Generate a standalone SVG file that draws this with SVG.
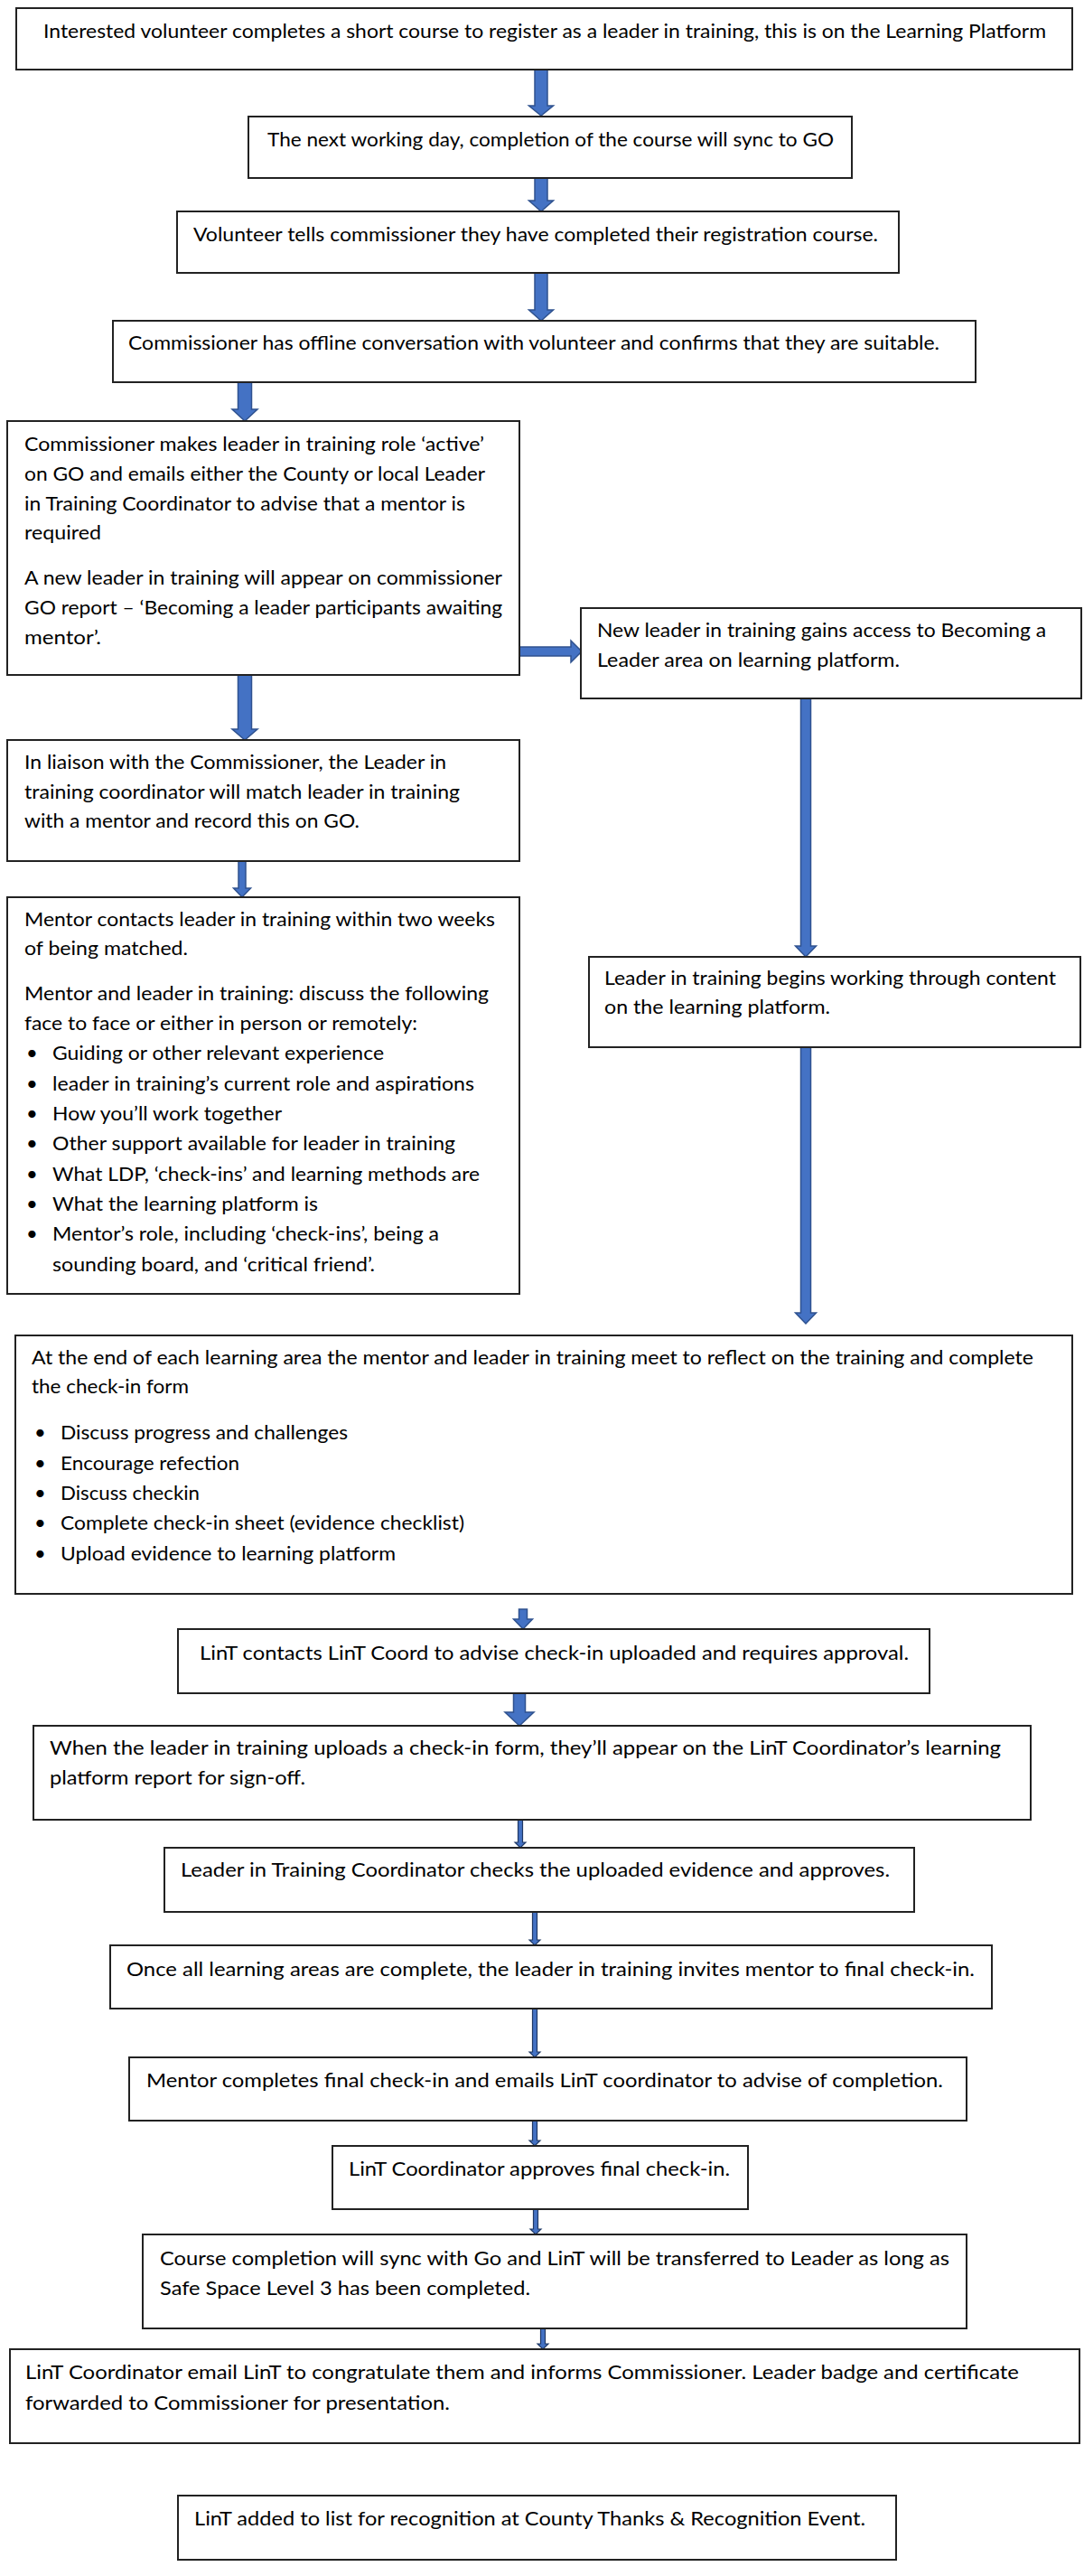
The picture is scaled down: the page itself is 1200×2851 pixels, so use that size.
<svg xmlns="http://www.w3.org/2000/svg" width="1200" height="2851" viewBox="0 0 1200 2851">
<style>
.box{fill:#fff;stroke:#222;stroke-width:2}
.arr{fill:#4472C4;stroke:#2F528F;stroke-width:1.5}
.thin{fill:#4472C4;stroke:#1F3864;stroke-width:1.2}
text{font-family:Lato,"Liberation Sans",sans-serif;font-size:22px;fill:#000}
</style>
<rect width="1200" height="2851" fill="#fff"/>
<g id="connectors">
<polygon class="arr" points="592,75 606,75 606,117 612.5,117 599,128 585.5,117 592,117"/>
<polygon class="arr" points="592,197 606,197 606,222 612.5,222 599,234 585.5,222 592,222"/>
<polygon class="arr" points="592,302 606,302 606,343 612.5,343 599,355 585.5,343 592,343"/>
<polygon class="arr" points="263.5,422 278.5,422 278.5,453 285,453 271,466 257,453 263.5,453"/>
<polygon class="arr" points="263.5,747 278.5,747 278.5,807 285,807 271,819 257,807 263.5,807"/>
<polygon class="arr" points="264,953 272,953 272,983 277.5,983 268,993 258.5,983 264,983"/>
<polygon class="arr" points="575,716 632,716 632,709 644,721 632,733 632,726 575,726"/>
<polygon class="arr" points="886.5,773 897.5,773 897.5,1047 903.5,1047 892,1059 880.5,1047 886.5,1047"/>
<polygon class="arr" points="886.5,1159 897.5,1159 897.5,1453 903.5,1453 892,1465 880.5,1453 886.5,1453"/>
<polygon class="arr" points="574.5,1781 583.5,1781 583.5,1792 589.5,1792 579,1803 568.5,1792 574.5,1792"/>
<polygon class="arr" points="568.5,1874 581.5,1874 581.5,1895 591,1895 575,1910 559,1895 568.5,1895"/>
<polygon class="thin" points="573.5,2014 578.5,2014 578.5,2039 582,2039 576,2045 570,2039 573.5,2039"/>
<polygon class="thin" points="589.5,2116 594.5,2116 594.5,2147 598,2147 592,2153 586,2147 589.5,2147"/>
<polygon class="thin" points="589.5,2223 594.5,2223 594.5,2271 598,2271 592,2277 586,2271 589.5,2271"/>
<polygon class="thin" points="589.5,2347 594.5,2347 594.5,2369 598,2369 592,2375 586,2369 589.5,2369"/>
<polygon class="thin" points="590.5,2445 595.5,2445 595.5,2467 599,2467 593,2473 587,2467 590.5,2467"/>
<polygon class="thin" points="598.5,2577 603.5,2577 603.5,2594 607,2594 601,2600 595,2594 598.5,2594"/>
</g>
<g id="n1"><rect class="box" x="18" y="9" width="1169" height="68"/><text x="48" y="42" textLength="1110" lengthAdjust="spacingAndGlyphs">Interested volunteer completes a short course to register as a leader in training, this is on the Learning Platform</text></g>
<g id="n2"><rect class="box" x="275" y="129" width="668" height="68"/><text x="296" y="162" textLength="627" lengthAdjust="spacingAndGlyphs">The next working day, completion of the course will sync to GO</text></g>
<g id="n3"><rect class="box" x="196" y="234" width="799" height="68"/><text x="214" y="267" textLength="758" lengthAdjust="spacingAndGlyphs">Volunteer tells commissioner they have completed their registration course.</text></g>
<g id="n4"><rect class="box" x="125" y="355" width="955" height="68"/><text x="142" y="387" textLength="898" lengthAdjust="spacingAndGlyphs">Commissioner has offline conversation with volunteer and confirms that they are suitable.</text></g>
<g id="n5"><rect class="box" x="8" y="466" width="567" height="281"/>
<text x="27" y="499" textLength="509" lengthAdjust="spacingAndGlyphs">Commissioner makes leader in training role ‘active’</text>
<text x="27" y="532" textLength="510" lengthAdjust="spacingAndGlyphs">on GO and emails either the County or local Leader</text>
<text x="27" y="565" textLength="488" lengthAdjust="spacingAndGlyphs">in Training Coordinator to advise that a mentor is</text>
<text x="27" y="597" textLength="85" lengthAdjust="spacingAndGlyphs">required</text>
<text x="27" y="647" textLength="529" lengthAdjust="spacingAndGlyphs">A new leader in training will appear on commissioner</text>
<text x="27" y="680" textLength="529" lengthAdjust="spacingAndGlyphs">GO report – ‘Becoming a leader participants awaiting</text>
<text x="27" y="713" textLength="85" lengthAdjust="spacingAndGlyphs">mentor’.</text></g>
<g id="n6"><rect class="box" x="643" y="673" width="554" height="100"/>
<text x="661" y="705" textLength="497" lengthAdjust="spacingAndGlyphs">New leader in training gains access to Becoming a</text>
<text x="661" y="738" textLength="335" lengthAdjust="spacingAndGlyphs">Leader area on learning platform.</text></g>
<g id="n7"><rect class="box" x="8" y="819" width="567" height="134"/>
<text x="27" y="851" textLength="467" lengthAdjust="spacingAndGlyphs">In liaison with the Commissioner, the Leader in</text>
<text x="27" y="884" textLength="482" lengthAdjust="spacingAndGlyphs">training coordinator will match leader in training</text>
<text x="27" y="916" textLength="371" lengthAdjust="spacingAndGlyphs">with a mentor and record this on GO.</text></g>
<g id="n8"><rect class="box" x="8" y="993" width="567" height="439"/>
<text x="27" y="1025" textLength="521" lengthAdjust="spacingAndGlyphs">Mentor contacts leader in training within two weeks</text>
<text x="27" y="1057" textLength="181" lengthAdjust="spacingAndGlyphs">of being matched.</text>
<text x="27" y="1107" textLength="514" lengthAdjust="spacingAndGlyphs">Mentor and leader in training: discuss the following</text>
<text x="27" y="1140" textLength="435" lengthAdjust="spacingAndGlyphs">face to face or either in person or remotely:</text>
<text x="29" y="1173">•</text><text x="58" y="1173" textLength="367" lengthAdjust="spacingAndGlyphs">Guiding or other relevant experience</text>
<text x="29" y="1207">•</text><text x="58" y="1207" textLength="467" lengthAdjust="spacingAndGlyphs">leader in training’s current role and aspirations</text>
<text x="29" y="1240">•</text><text x="58" y="1240" textLength="254" lengthAdjust="spacingAndGlyphs">How you’ll work together</text>
<text x="29" y="1273">•</text><text x="58" y="1273" textLength="446" lengthAdjust="spacingAndGlyphs">Other support available for leader in training</text>
<text x="29" y="1307">•</text><text x="58" y="1307" textLength="473" lengthAdjust="spacingAndGlyphs">What LDP, ‘check-ins’ and learning methods are</text>
<text x="29" y="1340">•</text><text x="58" y="1340" textLength="294" lengthAdjust="spacingAndGlyphs">What the learning platform is</text>
<text x="29" y="1373">•</text><text x="58" y="1373" textLength="428" lengthAdjust="spacingAndGlyphs">Mentor’s role, including ‘check-ins’, being a</text>
<text x="58" y="1407" textLength="357" lengthAdjust="spacingAndGlyphs">sounding board, and ‘critical friend’.</text></g>
<g id="n9"><rect class="box" x="652" y="1059" width="544" height="100"/>
<text x="669" y="1090" textLength="500" lengthAdjust="spacingAndGlyphs">Leader in training begins working through content</text>
<text x="669" y="1122" textLength="250" lengthAdjust="spacingAndGlyphs">on the learning platform.</text></g>
<g id="n10"><rect class="box" x="17" y="1478" width="1170" height="286"/>
<text x="35" y="1510" textLength="1109" lengthAdjust="spacingAndGlyphs">At the end of each learning area the mentor and leader in training meet to reflect on the training and complete</text>
<text x="35" y="1542" textLength="174" lengthAdjust="spacingAndGlyphs">the check-in form</text>
<text x="38" y="1593">•</text><text x="67" y="1593" textLength="318" lengthAdjust="spacingAndGlyphs">Discuss progress and challenges</text>
<text x="38" y="1627">•</text><text x="67" y="1627" textLength="198" lengthAdjust="spacingAndGlyphs">Encourage refection</text>
<text x="38" y="1660">•</text><text x="67" y="1660" textLength="154" lengthAdjust="spacingAndGlyphs">Discuss checkin</text>
<text x="38" y="1693">•</text><text x="67" y="1693" textLength="447" lengthAdjust="spacingAndGlyphs">Complete check-in sheet (evidence checklist)</text>
<text x="38" y="1727">•</text><text x="67" y="1727" textLength="371" lengthAdjust="spacingAndGlyphs">Upload evidence to learning platform</text></g>
<g id="n11"><rect class="box" x="197" y="1803" width="832" height="71"/><text x="221" y="1837" textLength="785" lengthAdjust="spacingAndGlyphs">LinT contacts LinT Coord to advise check-in uploaded and requires approval.</text></g>
<g id="n12"><rect class="box" x="37" y="1910" width="1104" height="104"/>
<text x="55" y="1942" textLength="1053" lengthAdjust="spacingAndGlyphs">When the leader in training uploads a check-in form, they’ll appear on the LinT Coordinator’s learning</text>
<text x="55" y="1975" textLength="283" lengthAdjust="spacingAndGlyphs">platform report for sign-off.</text></g>
<g id="n13"><rect class="box" x="182" y="2045" width="830" height="71"/><text x="200" y="2077" textLength="785" lengthAdjust="spacingAndGlyphs">Leader in Training Coordinator checks the uploaded evidence and approves.</text></g>
<g id="n14"><rect class="box" x="122" y="2153" width="976" height="70"/><text x="140" y="2187" textLength="939" lengthAdjust="spacingAndGlyphs">Once all learning areas are complete, the leader in training invites mentor to final check-in.</text></g>
<g id="n15"><rect class="box" x="143" y="2277" width="927" height="70"/><text x="162" y="2310" textLength="882" lengthAdjust="spacingAndGlyphs">Mentor completes final check-in and emails LinT coordinator to advise of completion.</text></g>
<g id="n16"><rect class="box" x="368" y="2375" width="460" height="70"/><text x="386" y="2408" textLength="422" lengthAdjust="spacingAndGlyphs">LinT Coordinator approves final check-in.</text></g>
<g id="n17"><rect class="box" x="158" y="2473" width="912" height="104"/>
<text x="177" y="2507" textLength="874" lengthAdjust="spacingAndGlyphs">Course completion will sync with Go and LinT will be transferred to Leader as long as</text>
<text x="177" y="2540" textLength="410" lengthAdjust="spacingAndGlyphs">Safe Space Level 3 has been completed.</text></g>
<g id="n18"><rect class="box" x="11" y="2600" width="1184" height="104"/>
<text x="28" y="2633" textLength="1100" lengthAdjust="spacingAndGlyphs">LinT Coordinator email LinT to congratulate them and informs Commissioner. Leader badge and certificate</text>
<text x="28" y="2667" textLength="470" lengthAdjust="spacingAndGlyphs">forwarded to Commissioner for presentation.</text></g>
<g id="n19"><rect class="box" x="197" y="2762" width="795" height="71"/><text x="215" y="2795" textLength="743" lengthAdjust="spacingAndGlyphs">LinT added to list for recognition at County Thanks &amp; Recognition Event.</text></g>
</svg>
